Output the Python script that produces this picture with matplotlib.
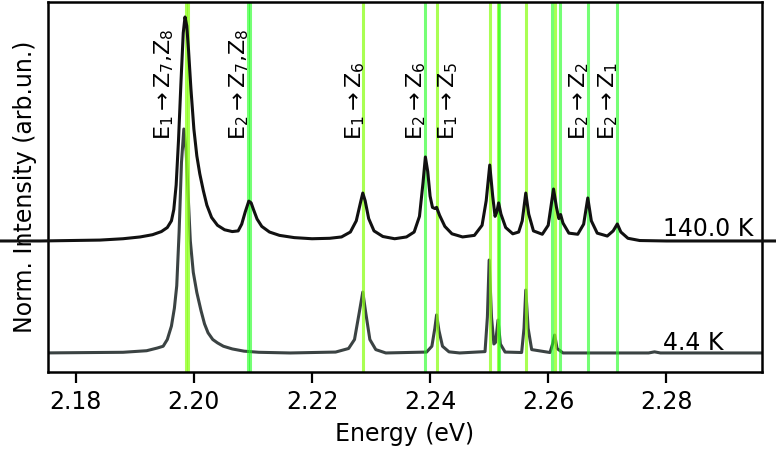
import numpy as np
import matplotlib
matplotlib.use("Agg")
import matplotlib.pyplot as plt

plt.rcParams['font.family'] = ['DejaVu Sans']
plt.rcParams['font.size'] = 17

#---------------------------------- data ----------------------------------
# 140 K spectrum, normalised (0 = baseline, 1 = max)
e_140 = [2.1600, 2.1740, 2.1841, 2.1880, 2.1909, 2.1930, 2.1945, 2.1955, 2.1962, 2.1966,
         2.1970, 2.1974, 2.1978, 2.1982, 2.1985, 2.1988, 2.1991, 2.1995, 2.2000, 2.2005,
         2.2010, 2.2016, 2.2022, 2.2030, 2.2040, 2.2052, 2.2065, 2.2075, 2.2081, 2.2087,
         2.2093, 2.2097, 2.2101, 2.2107, 2.2115, 2.2128, 2.2145, 2.2170, 2.2200, 2.2230,
         2.2250, 2.2265, 2.2275, 2.2282, 2.2286, 2.2290, 2.2296, 2.2305, 2.2320, 2.2340,
         2.2360, 2.2373, 2.2382, 2.2388, 2.2392, 2.2396, 2.2400, 2.2404, 2.2408, 2.2411,
         2.2416, 2.2425, 2.2437, 2.2455, 2.2475, 2.2488, 2.2495, 2.2501, 2.2506, 2.2510,
         2.2513, 2.2516, 2.2520, 2.2528, 2.2540, 2.2550, 2.2556, 2.2562, 2.2567, 2.2575,
         2.2590, 2.2600, 2.2605, 2.2609, 2.2614, 2.2618, 2.2621, 2.2625, 2.2635, 2.2650,
         2.2660, 2.2667, 2.2673, 2.2683, 2.2700, 2.2710, 2.2717, 2.2723, 2.2735, 2.2755,
         2.2800, 2.2900, 2.3000]
i_140 = [0.000, 0.000, 0.004, 0.010, 0.018, 0.028, 0.042, 0.060, 0.090, 0.140,
         0.250, 0.450, 0.700, 0.929, 1.000, 0.960, 0.850, 0.680, 0.500, 0.380,
         0.300, 0.225, 0.160, 0.105, 0.070, 0.050, 0.042, 0.045, 0.075, 0.130,
         0.178, 0.170, 0.140, 0.098, 0.065, 0.040, 0.025, 0.015, 0.010, 0.012,
         0.018, 0.040, 0.090, 0.170, 0.214, 0.180, 0.100, 0.045, 0.020, 0.010,
         0.018, 0.040, 0.110, 0.260, 0.375, 0.310, 0.200, 0.150, 0.145, 0.150,
         0.115, 0.065, 0.032, 0.018, 0.025, 0.070, 0.180, 0.339, 0.200, 0.110,
         0.130, 0.170, 0.120, 0.060, 0.032, 0.040, 0.090, 0.214, 0.120, 0.045,
         0.030, 0.070, 0.160, 0.232, 0.150, 0.100, 0.118, 0.080, 0.035, 0.030,
         0.075, 0.192, 0.090, 0.035, 0.022, 0.045, 0.076, 0.040, 0.012, 0.002,
         0.000, 0.000, 0.000]

# 4.4 K spectrum, normalised
e_4 = [2.1740, 2.1880, 2.1920, 2.1938, 2.1948, 2.1955, 2.1962, 2.1967, 2.1971, 2.1975,
       2.1979, 2.1983, 2.1987, 2.1990, 2.1994, 2.1999, 2.2005, 2.2012, 2.2018, 2.2024,
       2.2032, 2.2040, 2.2050, 2.2065, 2.2085, 2.2110, 2.2163, 2.2240, 2.2262, 2.2272,
       2.2280, 2.2286, 2.2291, 2.2298, 2.2308, 2.2325, 2.2394, 2.2403, 2.2408, 2.2411,
       2.2415, 2.2421, 2.2432, 2.2450, 2.2493, 2.2497, 2.2500, 2.2504, 2.2508, 2.2511,
       2.2515, 2.2519, 2.2527, 2.2555, 2.2559, 2.2562, 2.2566, 2.2572, 2.2603, 2.2608,
       2.2611, 2.2615, 2.2625, 2.2770, 2.2780, 2.2790, 2.2970]
i_4 = [0.000, 0.003, 0.010, 0.022, 0.030, 0.060, 0.120, 0.200, 0.300, 0.540,
       0.850, 1.000, 0.900, 0.720, 0.500, 0.360, 0.270, 0.190, 0.130, 0.090,
       0.060, 0.045, 0.030, 0.018, 0.008, 0.003, 0.000, 0.004, 0.020, 0.060,
       0.180, 0.272, 0.180, 0.060, 0.015, 0.000, 0.004, 0.030, 0.110, 0.170,
       0.100, 0.030, 0.005, 0.000, 0.006, 0.160, 0.415, 0.160, 0.040, 0.048,
       0.147, 0.040, 0.004, 0.002, 0.110, 0.281, 0.110, 0.015, 0.002, 0.045,
       0.080, 0.020, 0.000, 0.000, 0.005, 0.000, 0.000]

offset_140 = 0.5

# transition energies (eV)
e1_lines = [2.1986, 2.1990, 2.2286, 2.2411, 2.2501, 2.2515, 2.2562, 2.2612]
e2_lines = [2.2091, 2.2095, 2.2391, 2.2516, 2.2606, 2.2620, 2.2667, 2.2717]

labels = [r'E$_1$$\rightarrow$Z$_7$,Z$_8$', r'E$_2$$\rightarrow$Z$_7$,Z$_8$',
          r'E$_1$$\rightarrow$Z$_6$', r'E$_2$$\rightarrow$Z$_6$', r'E$_1$$\rightarrow$Z$_5$',
          r'E$_2$$\rightarrow$Z$_2$', r'E$_2$$\rightarrow$Z$_1$']
label_x = [2.1950, 2.2076, 2.2273, 2.2377, 2.2431, 2.2652, 2.2702]

#------------------------------------------ plot ------------------------------------------
fig = plt.figure(figsize=(7.76, 4.51), dpi=100)
ax = fig.add_axes([48/776, 1-372/451, (762-48)/776, 370/451])

ax.plot(e_4, i_4, color='#3b4343', lw=2.2, zorder=1)

for e in e1_lines:
    ax.axvline(e, color='#8cff1a', alpha=0.75, lw=2.2, zorder=2)
for e in e2_lines:
    ax.axvline(e, color='#1aff1a', alpha=0.6, lw=2.2, zorder=2)

ax.plot(e_140, np.array(i_140) + offset_140, color='#111111', lw=2.2, zorder=3, clip_on=False)

for lab, x in zip(labels, label_x):
    ax.text(x, 0.951, lab, rotation=90, ha='center', va='bottom', fontsize=16)

ax.text(2.2794, offset_140 + 0.022, '140.0 K', ha='left', va='baseline')
ax.text(2.2794, 0.013, '4.4 K', ha='left', va='baseline')

ax.set_xlim(2.1753, 2.2962)
ax.set_ylim(-0.085, 1.567)
ax.set_xticks([2.18, 2.20, 2.22, 2.24, 2.26, 2.28])
ax.set_yticks([])
ax.tick_params(axis='x', length=8, width=1.6, pad=5)
for s in ax.spines.values():
    s.set_linewidth(1.8)
ax.set_xlabel('Energy (eV)', labelpad=6)
ax.set_ylabel('Norm. Intensity (arb.un.)', labelpad=8)

plt.savefig('out.png', dpi=100)
